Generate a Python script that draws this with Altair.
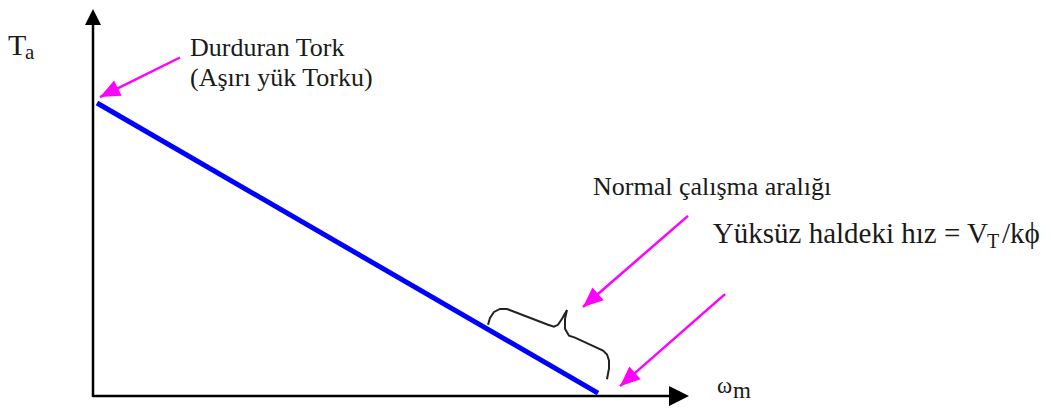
import math
import altair as alt
import pandas as pd

# --- diagram data (origin = axes intersection, x = speed ω, y = torque) ---
# torque-speed characteristic (blue line)
line_w = [4, 505]
line_t = [296, 3]

# axes (x1, y1, x2, y2) and arrow tips
axis_x1 = [0, 0]
axis_y1 = [-1, 0]
axis_x2 = [0, 580]
axis_y2 = [380, 0]
axis_tip_x = [0, 596]
axis_tip_y = [391, 0]
axis_tip_angle = [0, 90]
axis_tip_size = [256, 400]

# magenta annotation arrows (tail -> tip)
arrow_tail_w = [87, 595, 632]
arrow_tail_t = [342, 182, 103]
arrow_tip_w = [7, 490, 527]
arrow_tip_t = [302, 90, 10]

# curly brace marking the normal operating range
brace_w = [395, 397, 401, 407, 414, 455, 461, 465, 469, 474, 472, 472, 476, 482, 510, 514, 516, 516, 514]
brace_t = [72, 79, 85, 88, 88, 72, 70, 72, 78, 87, 78, 68, 61, 59, 46, 42, 36, 28, 17]

# text labels (left aligned)
label_text = ["Durduran Tork", "(Aşırı yük Torku)", "Normal çalışma aralığı",
              "T", "/kϕ", "ω", "m", "T", "a"]
label_x = [97, 97, 500, 894, 909, 624, 640, -85, -68]
label_y = [344, 313, 203, 150, 155, 3, -2, 345, 340]
label_size = [26, 26, 26, 20, 29, 23, 23, 30, 21]

# right aligned label
right_text = ["Yüksüz haldeki hız = V"]
right_x = [895]
right_y = [155]
right_size = [29]

FONT = "Liberation Serif"
TEXT_COLOR = "#1a1a1a"

xs = alt.Scale(domain=[-85, 950], nice=False, zero=False)
ys = alt.Scale(domain=[-6, 392], nice=False, zero=False)

line_df = pd.DataFrame({"w": line_w, "t": line_t})
axis_df = pd.DataFrame({"x1": axis_x1, "y1": axis_y1, "x2": axis_x2, "y2": axis_y2})
axis_tip_df = pd.DataFrame({"x": axis_tip_x, "y": axis_tip_y,
                            "ang": axis_tip_angle, "s": axis_tip_size})
arrow_df = pd.DataFrame({"x1": arrow_tail_w, "y1": arrow_tail_t,
                         "x2": arrow_tip_w, "y2": arrow_tip_t})
arrow_df["ang"] = [
    (math.degrees(math.atan2(x2 - x1, y2 - y1)) + 360) % 360
    for x1, y1, x2, y2 in zip(arrow_tail_w, arrow_tail_t, arrow_tip_w, arrow_tip_t)
]
brace_df = pd.DataFrame({"w": brace_w, "t": brace_t, "i": list(range(len(brace_w)))})
label_df = pd.DataFrame({"x": label_x, "y": label_y, "text": label_text, "fs": label_size})
right_df = pd.DataFrame({"x": right_x, "y": right_y, "text": right_text, "fs": right_size})

X = lambda f: alt.X(f, scale=xs, axis=None)
Y = lambda f: alt.Y(f, scale=ys, axis=None)

axes = alt.Chart(axis_df).mark_rule(color="black", strokeWidth=2.5).encode(
    x=X("x1:Q"), y=Y("y1:Q"), x2="x2:Q", y2="y2:Q"
)
axis_heads = alt.Chart(axis_tip_df).mark_point(
    shape="M0,0L-1,2L1,2Z", filled=True, opacity=1, color="black", strokeWidth=0
).encode(
    x=X("x:Q"), y=Y("y:Q"),
    angle=alt.Angle("ang:Q", scale=None),
    size=alt.Size("s:Q", scale=None),
)

tline = alt.Chart(line_df).mark_line(color="#0000ff", strokeWidth=5).encode(
    x=X("w:Q"), y=Y("t:Q")
)

brace = alt.Chart(brace_df).mark_line(color="#222222", strokeWidth=2, interpolate="linear").encode(
    x=X("w:Q"), y=Y("t:Q"), order="i:Q"
)

arrows = alt.Chart(arrow_df).mark_rule(color="#ff00ff", strokeWidth=2.5).encode(
    x=X("x1:Q"), y=Y("y1:Q"), x2="x2:Q", y2="y2:Q"
)
arrow_heads = alt.Chart(arrow_df).mark_point(
    shape="M0,0L-0.85,2L0.85,2Z", filled=True, opacity=1, color="#ff00ff",
    size=400, strokeWidth=0
).encode(
    x=X("x2:Q"), y=Y("y2:Q"),
    angle=alt.Angle("ang:Q", scale=None),
)

labels = alt.Chart(label_df).mark_text(
    font=FONT, align="left", baseline="alphabetic", color=TEXT_COLOR
).encode(
    x=X("x:Q"), y=Y("y:Q"), text="text:N", size=alt.Size("fs:Q", scale=None)
)
rlabels = alt.Chart(right_df).mark_text(
    font=FONT, align="right", baseline="alphabetic", color=TEXT_COLOR
).encode(
    x=X("x:Q"), y=Y("y:Q"), text="text:N", size=alt.Size("fs:Q", scale=None)
)

chart = alt.layer(
    axes, axis_heads, tline, brace, arrows, arrow_heads, labels, rlabels
).properties(
    width=1035, height=398, padding=0,
    autosize=alt.AutoSizeParams(type="fit", contains="padding"),
    background="white",
).configure_view(stroke=None)

chart.save("out.html", embed_options={"renderer": "svg", "actions": False})
